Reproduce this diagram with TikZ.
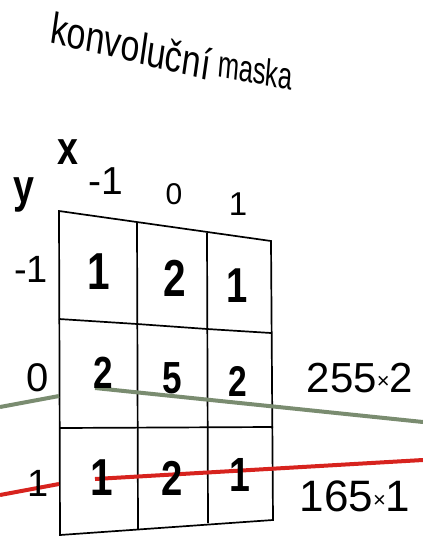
\documentclass[tikz,border=0pt]{standalone}
\usepackage{fontspec}
\setmainfont{Liberation Sans}
\usetikzlibrary{positioning}

\definecolor{raygreen}{RGB}{122,140,112}
\definecolor{rayred}{RGB}{215,35,30}

\begin{document}
\begin{tikzpicture}[
			x=1pt, y=-1pt,
			gridline/.style={line width=1.7pt, line join=miter},
			ray/.style={line width=4pt},
			num/.style={font=\bfseries\fontsize{#1}{#1}\selectfont, xscale=0.78, inner sep=0},
			lab/.style={font=\fontsize{#1}{#1}\selectfont, inner sep=0},
			axis/.style={font=\bfseries\fontsize{47}{47}\selectfont, xscale=0.8, inner sep=0}
		]
			\useasboundingbox (0,0) rectangle (423,541);

			\node[lab=44, xscale=0.77, rotate=-10.5, anchor=base west] (title) at (49,42) {konvoluční};
			\node[lab=38, xscale=0.67, rotate=-7.5, anchor=base west] (title2) at (217,76) {maska};

			\foreach \i/\xt/\xb/\ytop/\yone/\ytwo/\ybot in {0/59/60/211/319/428/535, 1/137/138/222/324/428/529, 2/207/208/233/329/427/523, 3/271/273/241/333/427/520} {
				\coordinate (t\i) at (\xt,\ytop);
				\coordinate (a\i) at (\xt,\yone);
				\coordinate (b\i) at (\xb,\ytwo);
				\coordinate (c\i) at (\xb,\ybot);
			}
			\draw[gridline] (t0) -- (t3) -- (c3) -- (c0) -- cycle;
			\draw[gridline] (t1) -- (c1) (t2) -- (c2);
			\draw[gridline] (a0) -- (a1) -- (a2) -- (a3);
			\draw[gridline] (b0) -- (b3);

			\coordinate (gin) at (0,407);
			\coordinate (gedge) at (59,396);
			\coordinate (gstart) at (95,388);
			\coordinate (gout) at (423,422);
			\coordinate (rin) at (0,495);
			\coordinate (redge) at (59,484);
			\coordinate (rstart) at (95,479);
			\coordinate (rout) at (423,460);
			\draw[ray, raygreen] (gin) -- (gedge) (gstart) -- (gout);
			\draw[ray, rayred] (rin) -- (redge) (rstart) -- (rout);

			\node[axis] (xlab) at (68,152) {x};
			\node[axis] (ylab) at (24,195) {y};
			\node[lab=39] (colA) at (106,181) {-1};
			\node[lab=30] (colB) at (174,194) {0};
			\node[lab=33] (colC) at (238,204) {1};
			\node[lab=38] (rowA) at (31,269) {-1};
			\node[lab=40] (rowB) at (38,378) {0};
			\node[lab=38] (rowC) at (38,483) {1};

			\node[num=52] (m11) at (99,272) {1};
			\node[num=52] (m12) at (175,278) {2};
			\node[num=49] (m13) at (237,286) {1};
			\node[num=45] (m21) at (103,373) {2};
			\node[num=45] (m22) at (172,378) {5};
			\node[num=43] (m23) at (238,381) {2};
			\node[num=52] (m31) at (102,478) {1};
			\node[num=49] (m32) at (172,478) {2};
			\node[num=48] (m33) at (240,475) {1};

			\node[lab=42] (wgreen) at (360,378) {255{\fontsize{22}{22}\selectfont\raisebox{4pt}{×}}2};
			\node[lab=44] (wred) at (355,496) {165{\fontsize{22}{22}\selectfont\raisebox{4pt}{×}}1};
		\end{tikzpicture}
\end{document}
